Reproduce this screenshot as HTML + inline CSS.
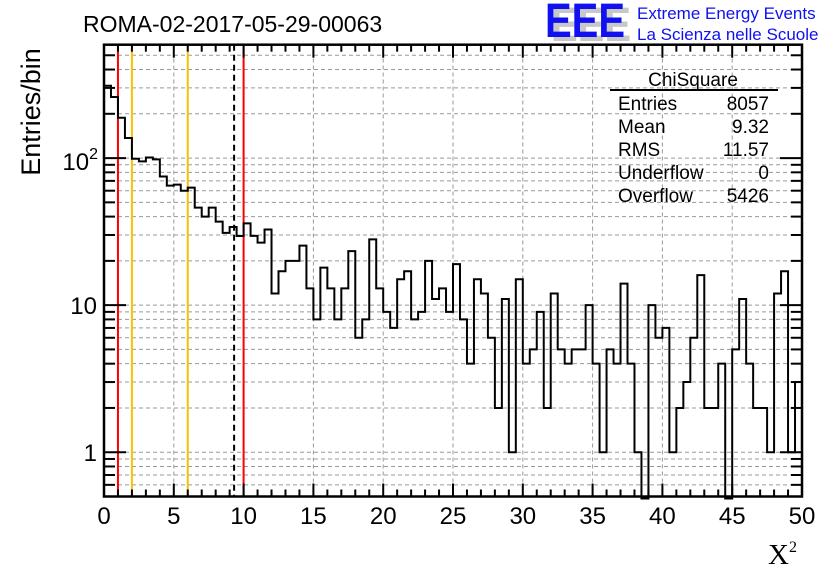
<!DOCTYPE html>
<html><head><meta charset="utf-8"><style>
body{margin:0;background:#fff;}
svg{display:block;font-family:"Liberation Sans",sans-serif;}
</style></head><body>
<svg id="chart" width="836" height="572" viewBox="0 0 836 572" xmlns="http://www.w3.org/2000/svg">
<rect width="836" height="572" fill="#fff"/>
<g id="grid"></g>
<g id="lines"></g>
<g id="hist"></g>
<g id="axes"></g>
<text x="83" y="32" font-size="23">ROMA-02-2017-05-29-00063</text>
<g>
<text x="551" y="41" font-size="48" font-weight="bold" fill="#c8c8c8" textLength="80" lengthAdjust="spacingAndGlyphs">EEE</text>
<text x="545" y="37" font-size="48" font-weight="bold" fill="#1010f0" textLength="80" lengthAdjust="spacingAndGlyphs">EEE</text>
<text x="637" y="19" font-size="17" fill="#1010f0">Extreme Energy Events</text>
<text x="637" y="40" font-size="17" fill="#1010f0">La Scienza nelle Scuole</text>
</g>
<g font-size="19">
<text x="693" y="86" text-anchor="middle">ChiSquare</text>
<line x1="610" y1="90" x2="778" y2="90" stroke="#000" stroke-width="2"/>
<text x="618" y="110">Entries</text><text x="769" y="110" text-anchor="end">8057</text>
<text x="618" y="133">Mean</text><text x="769" y="133" text-anchor="end">9.32</text>
<text x="618" y="156">RMS</text><text x="769" y="156" text-anchor="end">11.57</text>
<text x="618" y="179">Underflow</text><text x="769" y="179" text-anchor="end">0</text>
<text x="618" y="202">Overflow</text><text x="769" y="202" text-anchor="end">5426</text>
</g>
<text transform="translate(40,112) rotate(-90)" text-anchor="middle" font-size="27">Entries/bin</text>
<text x="768" y="564" font-size="29" font-family="Liberation Serif,serif">X<tspan font-size="16" dy="-12">2</tspan></text>
</svg>
<script>
const counts=[310,260,188,137,99,95,101,98,75,65,66,60,63,46,40,46,37,31,34,29.5,36,29.6,26.6,32.7,12,17,20,20,25.4,13,8,18,13,8,13,23.3,6,8,28,13,9,7,15,17,8,9,20,11,13,9,19,8,4,15,12,6,2,11,1,15,4,5,9,2,12,5,4,5,5,10,4,1,5,4,14,4,1,0,10,6,7,1,2,3,6,16,2,2,4,0,5,11,4,2,2,1,12,17,1,3];
const xTicks=[0,5,10,15,20,25,30,35,40,45,50];
const redLines=[1,10];
const yellowLines=[2,6];
const meanLine=[9.32];
const X0=104,X1=802,Y0=496.5,Y1=44.7,XMIN=0,XMAX=50,YMIN=0.5,YMAX=590;
const NS="http://www.w3.org/2000/svg";
const xs=v=>X0+(v-XMIN)/(XMAX-XMIN)*(X1-X0);
const ys=v=>Y0-(Math.log10(v)-Math.log10(YMIN))/(Math.log10(YMAX)-Math.log10(YMIN))*(Y0-Y1);
function mk(tag,attrs,parent){const e=document.createElementNS(NS,tag);for(const k in attrs)e.setAttribute(k,attrs[k]);parent.appendChild(e);return e;}
const grid=document.getElementById('grid'),axes=document.getElementById('axes'),hist=document.getElementById('hist'),lines=document.getElementById('lines');
const yVals=[];for(const d of [0.1,1,10,100])for(let m=1;m<10;m++){const v=m*d;if(v>=YMIN&&v<=YMAX)yVals.push(v);}
yVals.forEach(v=>{const y=ys(v);
 const g=mk('line',{x1:X0,x2:X1,y1:y,y2:y,stroke:'#999','stroke-dasharray':'4,3','stroke-width':1},grid);
 
 
 const maj=[1,10,100].includes(Math.round(v*1000)/1000);const L=maj?22:11;
 mk('line',{x1:X0,x2:X0+L,y1:y,y2:y,stroke:'#000','stroke-width':2},axes);
 mk('line',{x1:X1,x2:X1-L,y1:y,y2:y,stroke:'#000','stroke-width':2},axes);
});
[[1,'1'],[10,'10']].forEach(([v,t])=>{const e=mk('text',{x:97,y:ys(v)+9,'text-anchor':'end','font-size':24},axes);e.textContent=t;
 
 });
const e100=mk('text',{x:98,y:ys(100)+12,'text-anchor':'end','font-size':24},axes);e100.innerHTML='10<tspan font-size="16" dy="-11">2</tspan>';


for(let v=0;v<=50;v+=1){const x=xs(v);const maj=v%5===0;const L=maj?13:7;
 mk('line',{x1:x,x2:x,y1:Y0,y2:Y0-L,stroke:'#000','stroke-width':2},axes);
 mk('line',{x1:x,x2:x,y1:Y1,y2:Y1+L,stroke:'#000','stroke-width':2},axes);}
xTicks.forEach(v=>{const x=xs(v);
 if(v>0&&v<50){const g=mk('line',{x1:x,x2:x,y1:Y0,y2:Y1,stroke:'#999','stroke-dasharray':'4,3','stroke-width':1},grid);
 
 }
 const t=mk('text',{x:x,y:524,'text-anchor':'middle','font-size':24},axes);t.textContent=v;
 
 });
mk('rect',{x:X0,y:Y1,width:X1-X0,height:Y0-Y1,fill:'none',stroke:'#000','stroke-width':2.5},axes);
const vl=(v,c,dash,name)=>{const e=mk('line',{x1:xs(v),x2:xs(v),y1:Y1,y2:Y0,stroke:c,'stroke-width':2,'stroke-dasharray':dash},lines);
 
 };
redLines.forEach(v=>vl(v,'#f00','none','red-cut-line'));
yellowLines.forEach(v=>vl(v,'#f5c400','none','yellow-cut-line'));
meanLine.forEach(v=>vl(v,'#000','6,4','mean-line'));
const bw=(XMAX-XMIN)/counts.length;const yOf=c=>c>0?Math.max(Y1,ys(c)):Y0+2;
let d='M'+xs(0)+','+yOf(counts[0]);
counts.forEach((c,i)=>{const y=yOf(c);d+=' L'+xs(i*bw)+','+y+' L'+xs((i+1)*bw)+','+y;});
const p=mk('path',{d:d,fill:'none',stroke:'#000','stroke-width':2},hist);


</script>
</body></html>
